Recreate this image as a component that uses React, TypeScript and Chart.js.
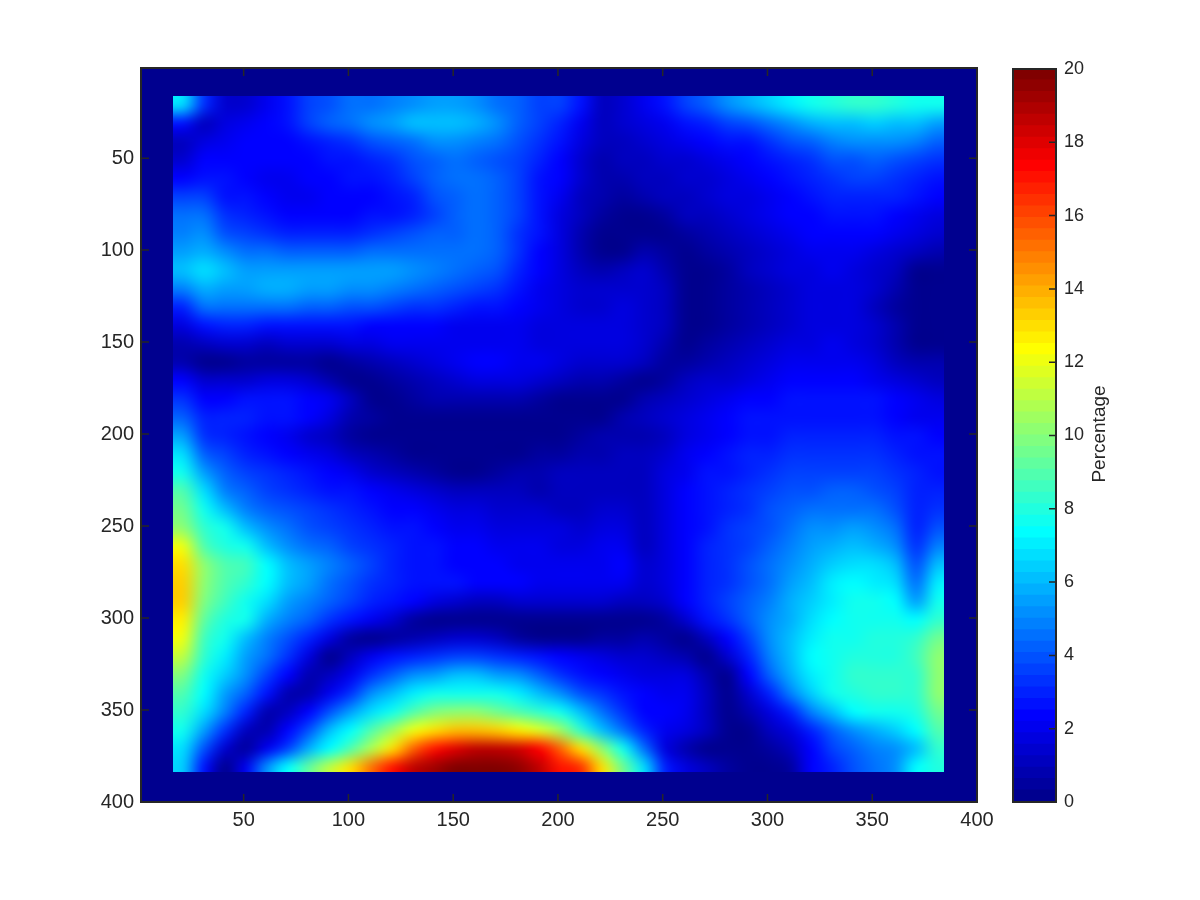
import React, { useEffect, useRef } from "react";
import { Chart, registerables } from "chart.js";

Chart.register(...registerables);

const xCells = [21,31,41,51,61,71,81,91,101,111,121,131,141,151,161,171,181,191,201,211,221,231,241,251,261,271,281,291,301,311,321,331,341,351,361,371,381];
const yCells = [21,31,41,51,61,71,81,91,101,111,121,131,141,151,161,171,181,191,201,211,221,231,241,251,261,271,281,291,301,311,321,331,341,351,361,371,381];
const axisTicks = [50,100,150,200,250,300,350,400];
const colorbarTicks = [0,2,4,6,8,10,12,14,16,18,20];
const colorbarTitle = "Percentage";

const percentage = [
[6.8,3.2,1.4,1.4,2.0,2.6,3.5,4.0,4.4,4.6,4.8,5.2,5.4,5.4,5.0,4.6,4.2,3.7,3.5,2.6,1.2,1.4,2.0,2.7,3.5,4.3,5.0,5.8,6.4,7.0,7.6,8.0,8.2,8.2,8.0,7.8,7.6],
[2.5,1.0,1.6,2.1,2.2,2.5,3.6,4.2,4.6,5.1,5.6,6,6.2,6.2,5.9,5.2,4.3,3.6,3,2,1,1.3,1.7,2.1,2.5,3,3.5,4,4.6,5.2,5.7,6,6.2,6.3,6.2,6,5.6],
[1,1.7,2,2.2,2.2,2.3,2.7,3.1,3.4,3.8,4.2,4.6,5,5.2,4.8,4.4,3.8,3.2,2.6,1.7,1,1.1,1.3,1.6,1.9,2.2,2.5,2.8,3.3,3.8,4.3,4.7,5,5.1,5,4.7,4.3],
[1.3,2.2,2.4,2.4,2.3,2.3,2.4,2.6,2.8,3.1,3.4,3.8,4.2,4.4,4.3,4,3.6,3,2.4,1.5,.8,1,1.1,1.3,1.5,1.7,2,2.3,2.6,3,3.4,3.8,4,4.1,4,3.7,3.4],
[2.2,2.7,2.6,2.3,2.1,2.1,2.2,2.4,2.5,2.8,3.1,3.6,4.1,4.4,4.4,4.1,3.6,2.8,2.2,1.3,.8,.8,1,1.2,1.3,1.5,1.8,2,2.3,2.7,3,3.3,3.5,3.5,3.4,3.1,2.8],
[3.6,3.6,2.8,2.5,2.2,2.1,2.1,2.2,2.3,2.4,2.6,3.1,3.9,4.3,4.4,4.2,3.6,2.6,2,1.1,.7,.6,.7,1,1.2,1.3,1.6,1.8,2,2.4,2.7,2.9,3,3,2.9,2.6,2.3],
[4.4,4.4,3.4,2.9,2.6,2.4,2.3,2.3,2.4,2.5,2.7,3.1,3.7,4.3,4.4,4.2,3.6,2.6,1.8,1,.5,.3,.2,.6,1,1.2,1.4,1.6,1.9,2.2,2.4,2.5,2.6,2.6,2.4,2.1,1.8],
[4.9,5,4,3.5,3.2,3,2.9,2.9,3,3.2,3.5,3.8,4.1,4.3,4.4,4.2,3.4,2.5,1.6,.8,.2,.1,.2,.3,.4,.9,1.2,1.4,1.6,1.9,2.2,2.3,2.3,2.2,2,1.6,1.3],
[5.6,5.8,5,4.6,4.4,4.2,4.1,4.1,4.2,4.4,4.5,4.5,4.5,4.5,4.4,4.1,3.4,2.4,1.6,.9,.2,.3,.8,.4,.1,.4,.9,1.2,1.5,1.8,1.9,2,2,1.8,1.4,1,.7],
[6,6.6,6,5.6,5.5,5.5,5.5,5.6,5.6,5.5,5.4,5.1,4.8,4.6,4.3,3.9,3.1,2.3,1.6,1,.9,1.2,1.3,.7,.1,.1,.6,1,1.3,1.6,1.8,1.9,1.8,1.5,1,.3,.2],
[4.8,5.9,5.6,5.6,5.7,5.7,5.6,5.5,5.3,5,4.7,4.5,4.3,4,3.7,3.2,2.7,2.1,1.7,1.3,1.3,1.5,1.5,1,.2,0,.4,.9,1.2,1.4,1.7,1.8,1.7,1.3,.7,.1,0],
[3,4.4,4.6,4.6,4.5,4.4,4.3,4.2,4,3.8,3.5,3.3,3.2,3,2.7,2.5,2.2,1.9,1.8,1.5,1.5,1.6,1.5,1.1,.2,0,.4,.9,1.2,1.4,1.6,1.7,1.6,1.2,.6,.1,0],
[1.6,2.6,2.9,2.9,2.8,2.7,2.6,2.6,2.5,2.4,2.4,2.3,2.2,2.1,2,2,1.9,1.8,1.7,1.6,1.6,1.7,1.5,1,.2,.1,.5,.9,1.2,1.4,1.7,1.8,1.7,1.3,.7,.1,.1],
[.7,1,1.3,1.3,1.2,1.3,1.4,1.5,1.6,1.7,1.9,2,2,2,2,2,1.9,1.8,1.7,1.6,1.6,1.6,1.4,.9,.2,.4,.8,1.1,1.4,1.6,1.8,1.9,1.8,1.4,.9,.3,.3],
[.8,.2,.3,.4,.5,.5,.4,.3,.5,.9,1.2,1.5,1.7,2,2.2,2.2,2.1,1.9,1.6,1.5,1.5,1.4,1.1,.4,.6,.9,1.2,1.4,1.6,1.9,2,2.1,2,1.6,1.1,.7,.7],
[2.2,1.5,1.4,1.5,1.6,1.6,1.4,.9,.1,.3,.6,.9,1.2,1.4,1.6,1.8,1.8,1.5,1.2,.9,.9,.6,.3,.6,1,1.3,1.5,1.7,2,2.2,2.3,2.4,2.3,2,1.6,1.3,1.2],
[3.3,2.2,2.3,2.6,2.7,2.7,2.3,2,1,.1,.1,.4,.7,.8,.8,.8,.7,.5,.3,.1,.1,.2,.8,1.2,1.4,1.7,1.9,2.2,2.4,2.6,2.8,2.8,2.8,2.5,2.2,1.9,1.7],
[4.3,2.9,2.9,2.9,2.8,2.6,2.2,1.7,.9,.4,.1,0,.1,.2,.1,.1,.1,.1,0,0,.2,.7,1,1.3,1.6,2,2.3,2.6,2.7,2.8,2.8,2.8,2.7,2.6,2.4,2.1,2],
[5.4,3.4,2.9,2.6,2.3,2,1.5,1,.6,.3,.2,.1,0,0,0,0,0,0,.2,.4,.7,.8,.8,1.2,1.6,2,2.3,2.6,2.8,2.9,3,3,3,2.9,2.7,2.5,2.2],
[6.8,4.3,3.5,3,2.7,2.4,2,1.6,1.2,.9,.5,.3,.1,0,0,0,.2,.4,.6,.8,.9,1,1,1.4,1.9,2.3,2.6,2.9,3.1,3.3,3.4,3.4,3.3,3.2,3,2.7,2.5],
[7.8,5.4,4.1,3.5,3.2,2.9,2.6,2.2,1.9,1.5,1.2,.9,.6,.3,.3,.5,.7,.9,1,1.1,1.2,1.2,1.2,1.6,2.1,2.5,2.8,3.1,3.4,3.6,3.7,3.7,3.7,3.6,3.3,2.9,2.7],
[8.8,6.6,4.8,4.1,3.7,3.4,3.1,2.8,2.5,2.2,1.9,1.6,1.3,1,1,1,1,.9,1,1,1,1.1,1.2,1.7,2.2,2.6,3,3.3,3.6,3.9,4,4.1,4.1,3.9,3.6,3.1,3],
[9.5,7.6,6,4.9,4.3,3.9,3.5,3.2,3,2.7,2.4,2.2,2,1.8,1.6,1.5,1.4,1.3,1.2,1.2,1.3,1.3,1.1,1.7,2.2,2.7,3.1,3.4,3.8,4.2,4.5,4.6,4.6,4.4,4,3,3.2],
[10.3,8.4,7.6,6,5,4.5,4,3.6,3.3,3,2.7,2.5,2.3,2.1,1.9,1.8,1.7,1.6,1.6,1.5,1.6,1.6,1.1,1.6,2.2,2.8,3.2,3.6,4,4.5,5,5.3,5.4,5.1,4.6,3,3.8],
[12,9,8,7.5,6,5,4.5,4.1,3.7,3.3,3,2.8,2.5,2.4,2.2,2.1,2,1.9,1.8,1.8,2,2,1.2,1.7,2.3,2.9,3.3,3.7,4.2,4.8,5.5,5.9,6,5.8,5.2,3.2,4.8],
[13,10,9,8.5,7.4,6.2,5.6,4.8,4.2,3.6,3.1,2.8,2.5,2.4,2.4,2.3,2.1,2,2,1.9,2.1,2.2,1.3,1.7,2.3,3,3.3,3.8,4.5,5.1,5.9,6.5,6.8,6.6,6,3.8,6],
[13.3,10,9,8.2,7.2,6.2,5.4,4.6,4,3.4,3.1,2.8,2.6,2.5,2.4,2.4,2.2,2,2,1.9,2,2,1.3,1.7,2.3,3,3.4,4,4.6,5.4,6.2,6.9,7.2,7.1,6.6,4.4,7],
[13.2,9.8,8.6,7.7,6.7,5.6,4.8,4.2,3.7,3.1,2.7,2.4,1.7,1.4,1.2,1.2,1.3,1.4,1.5,1.5,1.3,1.2,1.1,1.5,2.2,3,3.5,4.2,4.9,5.7,6.4,7.1,7.5,7.5,7.2,5.5,7.6],
[12.8,9.3,8,7.5,5.9,4.9,4.1,3.4,2.8,2,1.3,.5,.2,0,0,0,0,0,.1,.2,.3,.3,.3,.4,1.5,2.6,3.3,4.1,5,5.9,6.6,7.2,7.5,7.6,7.5,7.2,8.4],
[12,8.7,7.6,6.2,4.8,4,3,1.8,.5,.1,.4,.8,1.2,1.4,1.3,1.1,.6,.3,.3,.3,.4,.6,.7,.5,.1,1,2.4,3.6,5,6.2,7,7.5,7.8,7.9,8,8.3,9.5],
[11,8.2,7,5.6,4.4,3.2,1.8,.3,1,2,2.6,3,3.4,3.5,3.5,3.2,2.9,2.6,2.3,1.9,1.6,1.5,1.4,1.1,.7,.1,1.4,3,4.8,6.2,7.2,7.7,8,8.1,8.1,8.5,10],
[9.8,7.6,6.4,5,3.6,2.4,.9,1.1,2.1,3.2,4.2,5,5.6,6,6,5.6,5,4.3,3.4,2.8,2.3,1.9,1.7,1.6,1.6,.7,.2,2.2,4.2,5.8,7.1,7.8,8.2,8.3,8.2,8.4,10.3],
[9,7.2,5.6,4.2,2.8,.8,.7,2.1,3.4,5,6.2,7.1,7.6,7.8,7.8,7.6,7,6,5.2,4,3.2,2.6,2.2,2,1.9,1.2,0,1.3,3.1,4.8,6.4,7.6,8.1,8.3,8.2,8.2,10],
[8.2,6.6,4.8,3,.9,1,2.4,3.8,5.4,6.8,7.7,8.8,9.7,10,10,9.6,9,8.4,7.8,6,4.4,3.2,2.4,2.3,2,1.2,.1,.8,1.8,3,4.7,6.2,7.2,7.6,7.7,7.9,9.5],
[7.6,5.5,3.4,1,.8,2.4,4,6,7.4,8.8,10.4,12,13,13.5,13.5,13.3,12.8,11.8,10.4,8.2,6.2,4.6,3,2,1.6,1,.2,.3,1,1.8,3,4.2,5.2,5.7,6.3,7.2,8.8],
[6.8,3.9,1.4,.4,1.9,3.6,5.8,7.4,8.8,10.8,13,15.4,17,18,18.5,18.6,18.4,17.4,15.5,13,10,7.6,4.6,1.8,.9,.3,.2,.1,.4,1.2,2.2,3.6,4.3,4.9,5.3,6.2,8.3],
[6.5,2.8,.3,2,5,7.4,9.2,11,13,15,17,18.6,19.3,19.8,20,20,19.5,18.5,17,16.5,13,9.5,6.6,3,1.8,1,.6,.1,0,.4,2.2,3,4,4.4,5.3,7.2,8],
];

const LEVELS = 64;
const VMAX = 20;
const INK = "#262626";
const FONT = "'Liberation Sans', Arial, sans-serif";

function jet(i: number): string {
  const t = (i + 1) / LEVELS;
  const c = (d: number) => Math.round(255 * Math.max(0, Math.min(1, 1.5 - Math.abs(4 * t - d))));
  return `rgb(${c(3)},${c(2)},${c(1)})`;
}
const colorOf = (v: number) => jet(Math.max(0, Math.min(LEVELS - 1, Math.floor((v / VMAX) * LEVELS))));

const cellPoints = yCells.flatMap((y, r) => xCells.map((x, c) => ({ x, y, v: percentage[r][c] })));

const IMAGE_X = [16.3, 384.3];
const IMAGE_Y = [16.3, 383.5];
const CELL = 10;

const backgroundPlugin = {
  id: "imageBackground",
  beforeDatasetsDraw(chart: any) {
    const { ctx, chartArea: a } = chart;
    ctx.save();
    ctx.fillStyle = jet(0);
    ctx.fillRect(a.left, a.top, a.right - a.left, a.bottom - a.top);
    ctx.restore();
  },
};

// Display smoothing, like shading interp: samples the colour the library drew at each
// cell centre and re-paints the image extent with canvas image smoothing.
const smoothingPlugin = {
  id: "imageSmoothing",
  afterDatasetsDraw(chart: any) {
    const { ctx, chartArea: a, scales } = chart;
    const sx = scales.x, sy = scales.y;
    const W = chart.canvas.width, H = chart.canvas.height;
    const src = ctx.getImageData(0, 0, W, H).data;
    const small = document.createElement("canvas");
    small.width = xCells.length;
    small.height = yCells.length;
    const sc = small.getContext("2d")!;
    const img = sc.createImageData(xCells.length, yCells.length);
    yCells.forEach((y, r) => {
      const py = Math.round(sy.getPixelForValue(y));
      xCells.forEach((x, c) => {
        const px = Math.round(sx.getPixelForValue(x));
        const s = (py * W + px) * 4, d = (r * xCells.length + c) * 4;
        img.data[d] = src[s];
        img.data[d + 1] = src[s + 1];
        img.data[d + 2] = src[s + 2];
        img.data[d + 3] = 255;
      });
    });
    sc.putImageData(img, 0, 0);

    const left = sx.getPixelForValue(xCells[0] - CELL / 2);
    const right = sx.getPixelForValue(xCells[xCells.length - 1] + CELL / 2);
    const top = sy.getPixelForValue(yCells[0] - CELL / 2);
    const bottom = sy.getPixelForValue(yCells[yCells.length - 1] + CELL / 2);
    const cl = sx.getPixelForValue(IMAGE_X[0]), cr = sx.getPixelForValue(IMAGE_X[1]);
    const ct = sy.getPixelForValue(IMAGE_Y[0]), cb = sy.getPixelForValue(IMAGE_Y[1]);

    ctx.save();
    ctx.fillStyle = jet(0);
    ctx.fillRect(a.left, a.top, a.right - a.left, a.bottom - a.top);
    ctx.beginPath();
    ctx.rect(Math.round(cl), Math.round(ct), Math.round(cr) - Math.round(cl), Math.round(cb) - Math.round(ct));
    ctx.clip();
    ctx.imageSmoothingEnabled = true;
    ctx.imageSmoothingQuality = "high";
    ctx.drawImage(small, left, top, right - left, bottom - top);
    ctx.restore();
  },
};

function drawBox(chart: any) {
  const { ctx, chartArea: a } = chart;
  ctx.save();
  ctx.strokeStyle = INK;
  ctx.lineWidth = 2;
  ctx.strokeRect(a.left, a.top, a.right - a.left, a.bottom - a.top);
  ctx.restore();
}

const mainFramePlugin = {
  id: "mainFrame",
  afterDraw(chart: any) {
    const { ctx, chartArea: a, scales } = chart;
    ctx.save();
    ctx.strokeStyle = INK;
    ctx.lineWidth = 1.5;
    const len = 8;
    ctx.beginPath();
    axisTicks.forEach((t) => {
      const x = scales.x.getPixelForValue(t);
      ctx.moveTo(x, a.top); ctx.lineTo(x, a.top + len);
      ctx.moveTo(x, a.bottom); ctx.lineTo(x, a.bottom - len);
      const y = scales.y.getPixelForValue(t);
      ctx.moveTo(a.left, y); ctx.lineTo(a.left + len, y);
      ctx.moveTo(a.right, y); ctx.lineTo(a.right - len, y);
    });
    ctx.stroke();
    ctx.restore();
    drawBox(chart);
  },
};

const colorbarFramePlugin = {
  id: "colorbarFrame",
  afterDraw(chart: any) {
    const { ctx, chartArea: a, scales } = chart;
    ctx.save();
    ctx.strokeStyle = INK;
    ctx.lineWidth = 1.5;
    ctx.beginPath();
    colorbarTicks.forEach((t) => {
      const y = scales.y.getPixelForValue(t);
      ctx.moveTo(a.right, y); ctx.lineTo(a.right - 7, y);
    });
    ctx.stroke();
    ctx.translate(1100, 434);
    ctx.rotate(-Math.PI / 2);
    ctx.fillStyle = INK;
    ctx.font = `19px ${FONT}`;
    ctx.textAlign = "center";
    ctx.textBaseline = "middle";
    ctx.fillText(colorbarTitle, 0, 0);
    ctx.restore();
    drawBox(chart);
  },
};

export default function App() {
  const mainRef = useRef<HTMLCanvasElement>(null);
  const barRef = useRef<HTMLCanvasElement>(null);

  useEffect(() => {
    const main = new Chart(mainRef.current!, {
      type: "scatter",
      data: {
        datasets: [{
          label: "Percentage",
          data: cellPoints,
          pointStyle: "rect",
          pointRadius: 16,
          pointBorderWidth: 0,
          pointBackgroundColor: (c: any) => colorOf(c.raw?.v ?? 0),
        }],
      },
      options: {
        responsive: false,
        animation: false,
        events: [],
        layout: { padding: { left: 0, top: 68, right: 223, bottom: 0 } },
        plugins: { legend: { display: false }, tooltip: { enabled: false } },
        scales: {
          x: {
            type: "linear", min: 1, max: 400,
            afterBuildTicks: (s: any) => { s.ticks = axisTicks.map((value) => ({ value })); },
            afterFit: (s: any) => { s.height = 98; },
            grid: { display: false, drawTicks: false },
            border: { display: false },
            ticks: { color: INK, font: { family: FONT, size: 20 }, padding: 6, maxRotation: 0, autoSkip: false },
          },
          y: {
            type: "linear", min: 1, max: 400, reverse: true,
            afterBuildTicks: (s: any) => { s.ticks = axisTicks.map((value) => ({ value })); },
            afterFit: (s: any) => { s.width = 141; },
            grid: { display: false, drawTicks: false },
            border: { display: false },
            ticks: { color: INK, font: { family: FONT, size: 20 }, padding: 7, autoSkip: false },
          },
        },
      },
      plugins: [backgroundPlugin, smoothingPlugin, mainFramePlugin],
    } as any);

    const levelIndexes = Array.from({ length: LEVELS }, (_, i) => i);
    const bar = new Chart(barRef.current!, {
      type: "bar",
      data: {
        labels: ["Percentage"],
        datasets: levelIndexes.map((i) => ({
          label: String(i),
          data: [VMAX / LEVELS],
          backgroundColor: jet(i),
          borderWidth: 0,
          inflateAmount: 1,
          barPercentage: 1,
          categoryPercentage: 1,
          stack: "levels",
        })),
      },
      options: {
        responsive: false,
        animation: false,
        events: [],
        layout: { padding: { left: 1013, top: 69, right: 0, bottom: 0 } },
        plugins: { legend: { display: false }, tooltip: { enabled: false } },
        scales: {
          x: {
            stacked: true,
            afterFit: (s: any) => { s.height = 98; },
            grid: { display: false, drawTicks: false },
            border: { display: false },
            ticks: { display: false },
          },
          y: {
            stacked: true, position: "right", min: 0, max: VMAX,
            afterBuildTicks: (s: any) => { s.ticks = colorbarTicks.map((value) => ({ value })); },
            afterFit: (s: any) => { s.width = 144; },
            grid: { display: false, drawTicks: false },
            border: { display: false },
            ticks: { color: INK, font: { family: FONT, size: 18 }, padding: 8, autoSkip: false },
          },
        },
      },
      plugins: [colorbarFramePlugin],
    } as any);

    return () => { main.destroy(); bar.destroy(); };
  }, []);

  const style: React.CSSProperties = { position: "absolute", left: 0, top: 0 };
  return (
    <div style={{ position: "absolute", left: 0, top: 0, width: 1200, height: 900, background: "#fff", overflow: "hidden" }}>
      <canvas ref={mainRef} width={1200} height={900} style={style} />
      <canvas ref={barRef} width={1200} height={900} style={style} />
    </div>
  );
}
